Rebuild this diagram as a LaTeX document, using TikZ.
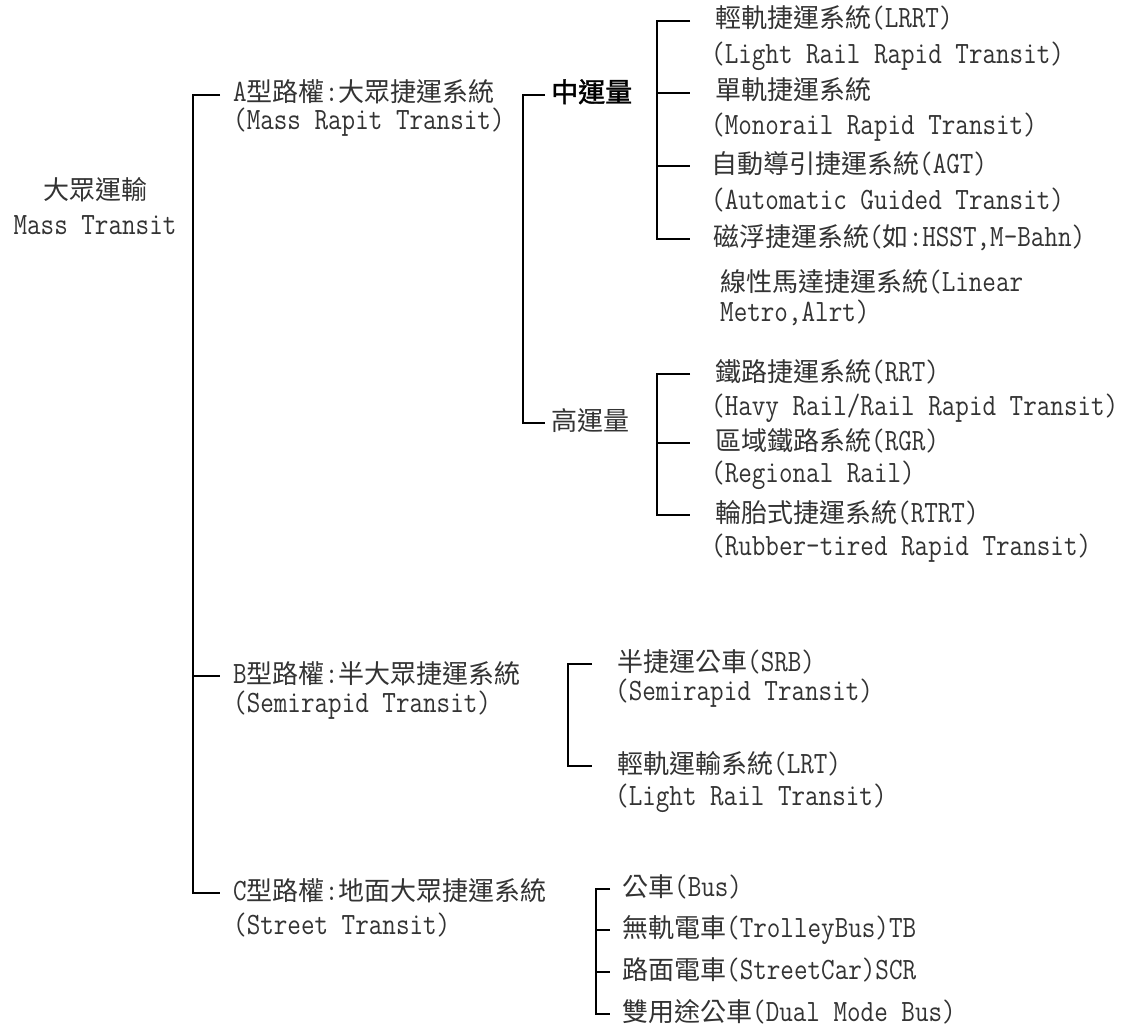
\documentclass[tikz,border=0pt]{standalone}
\usepackage{fontspec}
\setmainfont{Latin Modern Mono}[FakeStretch=0.85]
\newfontfamily\cjkf{Noto Sans CJK TC}
\newfontfamily\cjkbf{Noto Sans CJK TC}[FakeBold=1.5]
\newcommand\zh[1]{{\fontsize{26}{34}\cjkf #1}}
\newcommand\zhb[1]{{\fontsize{27}{34}\cjkbf #1}}
\definecolor{txt}{HTML}{333333}
\begin{document}
\begin{tikzpicture}[x=1pt,y=-1pt,
  lbl/.style={anchor=west,inner sep=0pt,text height=18pt,text depth=4pt,text=txt,font=\fontsize{31}{34}\selectfont},
  ctr/.style={lbl,anchor=center},
  wire/.style={line width=2.2pt,draw=black}]
\useasboundingbox[fill=white] (0,0) rectangle (1123,1027);

% root
\node[ctr] (root1) at (95,193) {\zh{大眾運輸}};
\node[ctr] (root2) at (95,227) {Mass Transit};

% level 1
\node[lbl] (A1) at (233,95) {A\zh{型路權}:\zh{大眾捷運系統}};
\node[lbl] (A2) at (233,123) {(Mass Rapit Transit)};
\node[lbl] (B1) at (233,676) {B\zh{型路權}:\zh{半大眾捷運系統}};
\node[lbl] (B2) at (233,705) {(Semirapid Transit)};
\node[lbl] (C1) at (233,893) {C\zh{型路權}:\zh{地面大眾捷運系統}};
\node[lbl] (C2) at (233,927) {(Street Transit)};

% A children
\node[lbl,text=black] (mid) at (551,95) {\zhb{中運量}};
\node[lbl] (high) at (551,423) {\zh{高運量}};

% medium capacity
\node[lbl] (c1) at (715,21) {\zh{輕軌捷運系統}(LRRT)};
\node[lbl] (c1e) at (711,57) {(Light Rail Rapid Transit)};
\node[lbl] (c2) at (715,93) {\zh{單軌捷運系統}};
\node[lbl] (c2e) at (711,128) {(Monorail Rapid Transit)};
\node[lbl] (c3) at (711,166) {\zh{自動導引捷運系統}(AGT)};
\node[lbl] (c3e) at (711,202) {(Automatic Guided Transit)};
\node[lbl] (c4) at (713,239) {\zh{磁浮捷運系統}(\zh{如}:HSST,M-Bahn)};
\node[lbl] (c5) at (720,284) {\zh{線性馬達捷運系統}(Linear};
\node[lbl] (c5e) at (720,314) {Metro,Alrt)};

% high capacity
\node[lbl] (d1) at (715,374) {\zh{鐵路捷運系統}(RRT)};
\node[lbl] (d1e) at (711,408) {(Havy Rail/Rail Rapid Transit)};
\node[lbl] (d2) at (715,443) {\zh{區域鐵路系統}(RGR)};
\node[lbl] (d2e) at (711,475) {(Regional Rail)};
\node[lbl] (d3) at (715,515) {\zh{輪胎式捷運系統}(RTRT)};
\node[lbl] (d3e) at (711,548) {(Rubber-tired Rapid Transit)};

% B children
\node[lbl] (e1) at (617,664) {\zh{半捷運公車}(SRB)};
\node[lbl] (e1e) at (615,693) {(Semirapid Transit)};
\node[lbl] (e2) at (617,766) {\zh{輕軌運輸系統}(LRT)};
\node[lbl] (e2e) at (615,798) {(Light Rail Transit)};

% C children
\node[lbl] (f1) at (622,889) {\zh{公車}(Bus)};
\node[lbl] (f2) at (622,930) {\zh{無軌電車}(TrolleyBus)TB};
\node[lbl] (f3) at (622,972) {\zh{路面電車}(StreetCar)SCR};
\node[lbl] (f4) at (622,1014) {\zh{雙用途公車}(Dual Mode Bus)};

% spine coordinates
\coordinate (Z0) at (193,0);
\coordinate (ZA) at (523,0);
\coordinate (ZM) at (657,0);
\coordinate (ZH) at (657,0);
\coordinate (ZB) at (568,0);
\coordinate (ZC) at (596,0);

% root bracket
\draw[wire] ([xshift=-13pt]A1.west) -- (Z0 |- A1.west) -- (Z0 |- C1.west) -- ([xshift=-13pt]C1.west);
\draw[wire] (Z0 |- B1.west) -- ([xshift=-13pt]B1.west);

% A bracket
\draw[wire] ([xshift=-6pt]mid.west) -- (ZA |- mid.west) -- (ZA |- high.west) -- ([xshift=-6pt]high.west);

% medium bracket
\draw[wire] ([xshift=-25pt]c1.west) -- (ZM |- c1.west) -- (ZM |- c4.west) -- ([xshift=-23pt]c4.west);
\draw[wire] (ZM |- c2.west) -- ([xshift=-25pt]c2.west);
\draw[wire] (ZM |- c3.west) -- ([xshift=-21pt]c3.west);

% high bracket
\draw[wire] ([xshift=-25pt]d1.west) -- (ZH |- d1.west) -- (ZH |- d3.west) -- ([xshift=-25pt]d3.west);
\draw[wire] (ZH |- d2.west) -- ([xshift=-25pt]d2.west);

% B bracket
\draw[wire] ([xshift=-25pt]e1.west) -- (ZB |- e1.west) -- (ZB |- e2.west) -- ([xshift=-25pt]e2.west);

% C bracket
\draw[wire] ([xshift=-12pt]f1.west) -- (ZC |- f1.west) -- (ZC |- f4.west) -- ([xshift=-12pt]f4.west);
\draw[wire] (ZC |- f2.west) -- ([xshift=-12pt]f2.west);
\draw[wire] (ZC |- f3.west) -- ([xshift=-12pt]f3.west);
\end{tikzpicture}
\end{document}
